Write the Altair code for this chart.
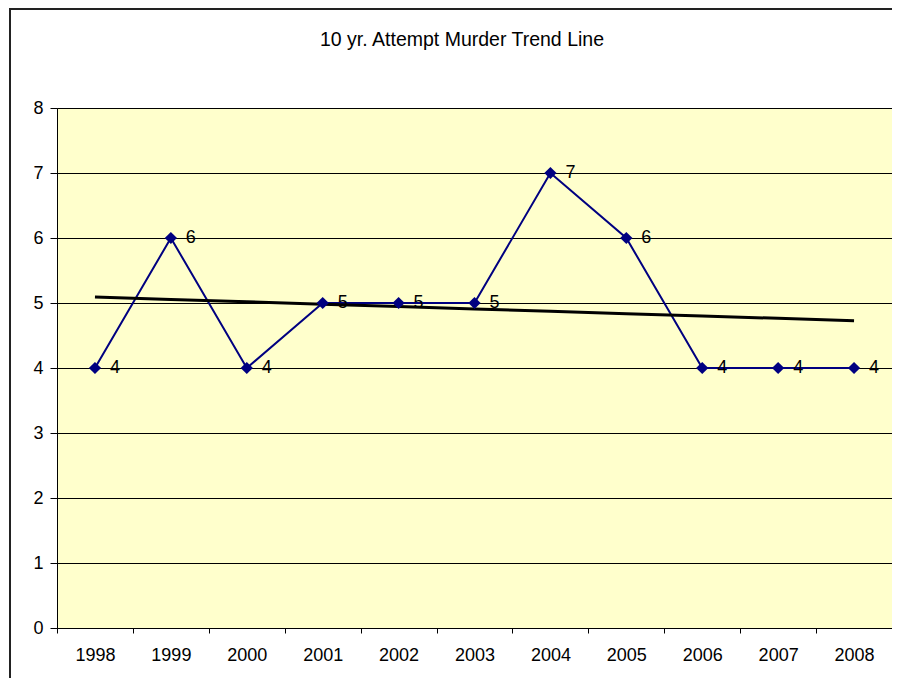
import altair as alt
import pandas as pd
import numpy as np

years = ["1998", "1999", "2000", "2001", "2002", "2003", "2004", "2005", "2006", "2007", "2008"]
values = [4, 6, 4, 5, 5, 5, 7, 6, 4, 4, 4]
title_text = "10 yr. Attempt Murder Trend Line"

idx = np.arange(len(values))
slope, intercept = np.polyfit(idx, values, 1)
trend = [float(intercept + slope * i) for i in idx]

df = pd.DataFrame({"year": years, "value": values, "trend": trend})

FONT = "Liberation Sans"

x_enc = alt.X(
    "year:O",
    scale=alt.Scale(domain=years, paddingInner=0, paddingOuter=0),
    axis=alt.Axis(
        title=None, labelAngle=0, tickBand="extent", grid=False,
        labelFontSize=18, labelFont=FONT, labelColor="#000000",
        tickSize=5, tickColor="#000000", domainColor="#000000",
        labelPadding=13,
    ),
)
y_enc = alt.Y(
    "value:Q",
    scale=alt.Scale(domain=[0, 8], nice=False),
    axis=alt.Axis(
        title=None, values=list(range(0, 9)), format="d", grid=True, gridColor="#000000",
        gridWidth=1, labelFontSize=18, labelFont=FONT, labelColor="#000000",
        tickSize=7, tickColor="#000000", domainColor="#000000", labelPadding=7,
    ),
)

base = alt.Chart(df)

line = base.mark_line(color="#000080", strokeWidth=2).encode(x=x_enc, y=y_enc)
points = base.mark_point(shape="diamond", filled=True, color="#000080", size=150, opacity=1).encode(
    x="year:O", y="value:Q"
)
labels = base.mark_text(align="left", baseline="middle", dx=15, fontSize=18, font=FONT, color="#000000").encode(
    x="year:O", y="value:Q", text="value:Q"
)
trendline = base.mark_line(color="#000000", strokeWidth=3).encode(x="year:O", y="trend:Q")

title = alt.Chart(pd.DataFrame({"t": [title_text]})).mark_text(
    align="center", baseline="alphabetic", fontSize=19.5, font=FONT, color="#000000"
).encode(x=alt.value(405), y=alt.value(-62), text="t:N")

border_left = alt.Chart(pd.DataFrame({"t": [0]})).mark_rule(
    color="#222222", strokeWidth=2, clip=False
).encode(x=alt.value(-47), y=alt.value(-100), y2=alt.value(700))
border_top = alt.Chart(pd.DataFrame({"t": [0]})).mark_rule(
    color="#222222", strokeWidth=2, clip=False
).encode(x=alt.value(-48), x2=alt.value(900), y=alt.value(-99))

chart = alt.layer(line, trendline, points, labels, title, border_left, border_top).properties(
    width=835, height=520,
    autosize=alt.AutoSizeParams(type="none"),
    padding={"left": 49, "top": 100, "right": 0, "bottom": 50},
    background="#ffffff",
).configure_view(fill="#FFFFCC", stroke="#808080", strokeWidth=1)

chart.save("out.html", embed_options={"renderer": "svg", "actions": False})
